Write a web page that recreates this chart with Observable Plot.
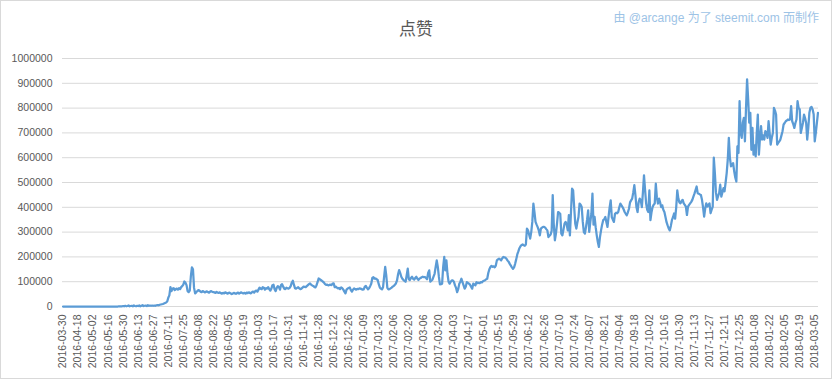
<!DOCTYPE html>
<html><head><meta charset="utf-8">
<script src="https://cdn.jsdelivr.net/npm/d3@7"></script>
<script src="https://cdn.jsdelivr.net/npm/@observablehq/plot@0.6"></script>
<style>
body{margin:0;background:#fff}
#wrap{position:relative;width:832px;height:379px;font-family:"Liberation Sans","Noto Sans CJK SC",sans-serif;overflow:hidden}
#frame{position:absolute;left:0;top:0;width:832px;height:379px;box-sizing:border-box;border:1px solid #d9d9d9;pointer-events:none}
#title{position:absolute;left:0;width:832px;top:18px;text-align:center;font-size:17px;color:#595959;font-family:"Noto Sans CJK SC",sans-serif;line-height:20px}
#credit{position:absolute;right:13px;top:10px;font-size:12px;color:#9dc3e6;line-height:16px;white-space:nowrap}
#chart svg{position:absolute;left:0;top:0}
</style></head>
<body>
<div id="wrap"><div id="chart"></div><div id="title">点赞</div><div id="credit">由 @arcange 为了 steemit.com 而制作</div><div id="frame"></div></div>
<script>
// first category, then daily from 2016-04-05 to 2018-03-08
const firstDate = "2016-03-30";
const dailyStart = "2016-04-05";
const dailyEndExclusive = "2018-03-09";

// x-axis tick labels (every 14th category)
const tickLabels = ["2016-03-30","2016-04-18","2016-05-02","2016-05-16","2016-05-30","2016-06-13","2016-06-27","2016-07-11","2016-07-25","2016-08-08","2016-08-22","2016-09-05","2016-09-19","2016-10-03","2016-10-17","2016-10-31","2016-11-14","2016-11-28","2016-12-12","2016-12-26","2017-01-09","2017-01-23","2017-02-06","2017-02-20","2017-03-06","2017-03-20","2017-04-03","2017-04-17","2017-05-01","2017-05-15","2017-05-29","2017-06-12","2017-06-26","2017-07-10","2017-07-24","2017-08-07","2017-08-21","2017-09-04","2017-09-18","2017-10-02","2017-10-16","2017-10-30","2017-11-13","2017-11-27","2017-12-11","2017-12-25","2018-01-08","2018-01-22","2018-02-05","2018-02-19","2018-03-05"];

const yTicks = [0,100000,200000,300000,400000,500000,600000,700000,800000,900000,1000000];

// votes per day, in thousands
const votesK = [
0,0,0,0,0,0,0,0,0,0,0,0,0,0,
0,0,0,0,0,0,0,0,0,0,0,0,0,0,
0,0,0,0,0,0,0,0,0,0,0,0,0,0,
0,0,0,0,0,0,0,0,0,0,1,1,1,1,
2,1,3,1,2,4,1,2,3,1,4,2,1,3,
2,4,1,3,5,2,3,4,2,5,3,4,3,4,
3,4,3,5,6,5,7,8,9,10,12,14,16,20,
35,45,78,62,72,74,66,70,72,68,74,70,78,82,
88,101,96,86,62,58,64,120,158,150,75,53,57,62,
66,64,60,58,62,60,57,59,61,58,56,60,62,59,
58,57,55,59,56,55,57,54,52,55,53,57,55,52,
54,56,53,50,52,55,53,51,54,56,52,55,57,54,
53,55,52,56,54,57,55,53,58,60,56,62,64,60,
68,76,72,70,78,76,68,74,72,78,70,64,72,86,
88,70,62,75,82,78,68,86,90,80,72,70,76,74,
72,75,82,96,104,88,74,72,75,78,73,70,72,76,
80,79,78,82,86,90,93,88,85,83,79,77,85,98,
113,110,107,104,100,96,90,87,88,85,87,88,86,92,
93,78,80,76,73,75,70,77,74,68,60,53,68,72,
75,77,66,60,68,73,70,68,71,70,73,72,70,68,
69,80,83,75,69,74,82,92,115,118,112,113,110,107,
90,77,72,69,78,120,160,125,75,69,70,73,76,80,
83,88,93,105,130,147,135,120,112,107,103,100,125,153,
110,107,115,120,112,109,115,120,112,107,113,115,118,120,
118,119,115,110,135,146,100,104,108,120,132,160,186,160,
120,89,90,92,160,200,146,186,132,100,92,100,105,105,
100,85,75,58,70,92,100,112,98,85,72,80,98,95,
92,88,80,72,92,88,85,98,94,96,94,98,97,102,
104,106,110,112,135,150,159,164,160,162,158,165,186,190,
193,190,186,195,200,198,197,192,185,180,172,165,158,152,
158,172,190,210,222,235,243,248,250,247,245,250,314,307,
290,274,300,341,415,380,341,330,320,307,287,314,318,321,
321,318,312,307,280,285,290,305,449,330,267,294,334,381,
378,374,294,287,310,334,341,330,307,368,287,380,475,468,
400,334,314,340,361,415,410,401,341,300,294,321,350,388,
301,340,374,455,330,361,320,287,260,240,280,307,330,348,
352,361,340,321,361,400,428,361,350,341,374,378,376,381,
400,415,408,401,392,381,374,368,380,394,420,428,435,460,
489,450,400,381,420,435,428,401,460,529,470,415,390,381,
468,348,380,401,410,415,495,440,415,435,420,401,408,390,
381,361,340,327,315,307,325,348,360,375,354,400,468,435,
420,416,425,430,416,410,403,369,403,410,416,422,430,443,
455,470,484,457,455,452,450,430,400,362,395,416,403,410,
416,376,390,403,600,538,460,430,445,457,491,443,460,477,
464,500,538,592,680,600,565,570,578,545,520,504,646,619,
828,700,680,741,761,666,800,916,835,741,781,632,720,612,
650,605,700,774,612,680,727,673,690,673,707,700,680,747,
700,653,680,700,801,790,774,653,660,666,673,690,707,734,
740,747,750,754,752,754,808,747,735,720,740,754,828,800,
795,700,720,740,774,760,740,673,720,781,801,805,795,775,
666,700,740,781
];

const fmt = d3.utcFormat("%Y-%m-%d");
const dates = [firstDate, ...d3.utcDay.range(new Date(dailyStart), new Date(dailyEndExclusive)).map(fmt)];
const data = dates.map((d, i) => ({date: d, votes: votesK[i] * 1000}));

const chart = Plot.plot({
  width: 832,
  height: 379,
  marginLeft: 62,
  marginRight: 14,
  marginTop: 58,
  marginBottom: 73,
  style: {fontSize: "10.5px", color: "#595959", fontFamily: "'Liberation Sans', sans-serif", background: "transparent"},
  x: {type: "point", domain: dates, padding: 0.5, ticks: tickLabels, tickRotate: -90, tickSize: 0, tickPadding: 8, label: null},
  y: {domain: [0, 1000000], ticks: yTicks, tickSize: 0, tickPadding: 10, label: null, tickFormat: d => String(d)},
  marks: [
    Plot.ruleY(yTicks, {stroke: "#d9d9d9", strokeWidth: 1}),
    Plot.line(data, {x: "date", y: "votes", stroke: "#5b9bd5", strokeWidth: 2.25, strokeLinejoin: "round", strokeLinecap: "round"})
  ]
});
document.getElementById("chart").appendChild(chart);
</script>
</body></html>
